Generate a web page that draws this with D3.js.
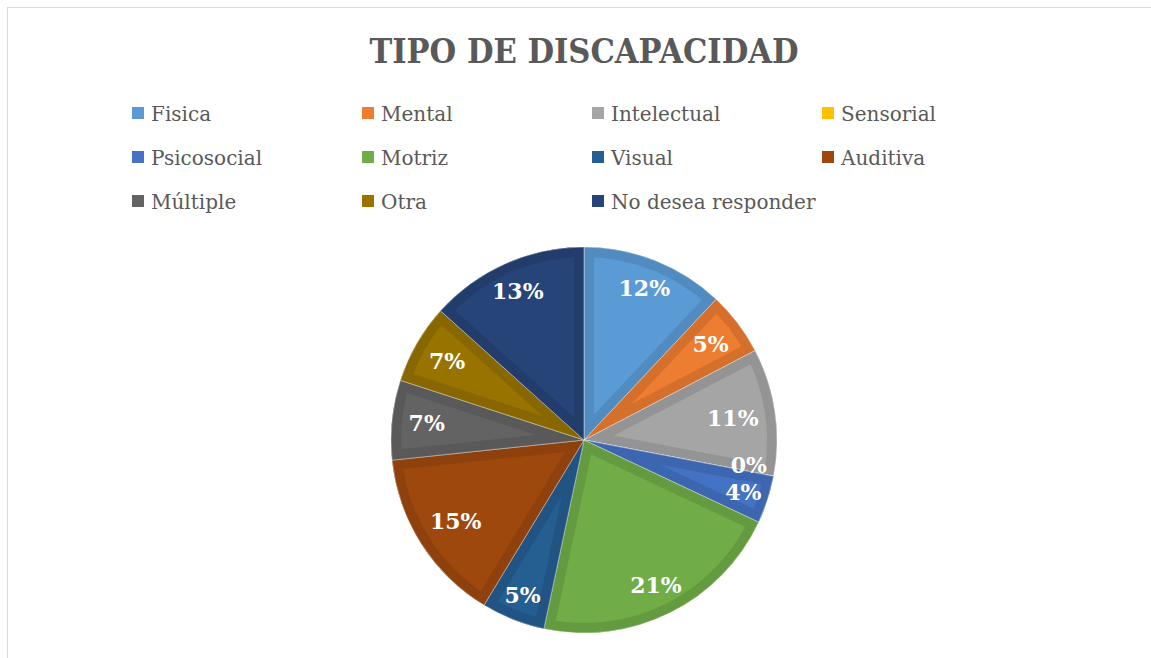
<!DOCTYPE html>
<html>
<head>
<meta charset="utf-8">
<script src="https://cdn.jsdelivr.net/npm/d3@7"></script>
<style>
  body { margin: 0; background: #fff; }
  svg { display: block; }
</style>
</head>
<body>
<svg id="chart" width="1151" height="658"></svg>
<script>
const categories = ["Fisica", "Mental", "Intelectual", "Sensorial", "Psicosocial", "Motriz",
                    "Visual", "Auditiva", "Múltiple", "Otra", "No desea responder"];
const counts = [9, 4, 8, 0, 3, 16, 4, 11, 5, 5, 10];
const colors = ["#5B9BD5", "#ED7D31", "#A5A5A5", "#FFC000", "#4472C4", "#70AD47",
                "#255E91", "#9E480E", "#636363", "#997300", "#264478"];
const title = "TIPO DE DISCAPACIDAD";

const width = 1151, height = 658;
const cx = 584, cy = 440, radius = 193;
const textGrey = "#595959";
const font = "'DejaVu Serif', serif";

let svg = d3.select("#chart");

// chart frame
svg.append("rect")
  .attr("x", 7.5).attr("y", 7.5)
  .attr("width", 1160).attr("height", 670)
  .attr("fill", "none")
  .attr("stroke", "#d9d9d9")
  .attr("stroke-width", 1);

// title
svg.append("text")
  .attr("x", cx)
  .attr("y", 63)
  .attr("text-anchor", "middle")
  .attr("font-family", font)
  .attr("font-weight", "bold")
  .attr("font-size", 34)
  .attr("fill", textGrey)
  .attr("textLength", 429)
  .attr("lengthAdjust", "spacingAndGlyphs")
  .text(title);

// legend, 4 columns
let legend = svg.append("g").attr("class", "legend");
let items = legend.selectAll("g.item")
  .data(categories)
  .enter()
  .append("g")
  .attr("class", "item")
  .attr("transform", (d, i) => `translate(${132 + (i % 4) * 230}, ${113 + Math.floor(i / 4) * 44})`);

items.append("rect")
  .attr("x", 0).attr("y", -6)
  .attr("width", 12).attr("height", 12)
  .attr("fill", (d, i) => colors[i]);

items.append("text")
  .attr("x", 19)
  .attr("y", 7.5)
  .attr("font-family", font)
  .attr("font-size", 20)
  .attr("fill", textGrey)
  .text(d => d);

// pie
let total = d3.sum(counts);
let pie = d3.pie().sort(null).value(d => d);
let arcs = pie(counts);
let arc = d3.arc().innerRadius(0).outerRadius(radius);

let g = svg.append("g").attr("transform", `translate(${cx},${cy})`);
let defs = svg.append("defs");

defs.selectAll("clipPath")
  .data(arcs)
  .enter()
  .append("clipPath")
  .attr("id", (d, i) => "clip" + i)
  .append("path")
  .attr("d", arc);

let slices = g.selectAll("g.slice")
  .data(arcs)
  .enter()
  .append("g")
  .attr("class", "slice");

slices.append("path")
  .attr("d", arc)
  .attr("fill", (d, i) => colors[i]);

// darker inner band along the slice edges
slices.append("path")
  .attr("d", arc)
  .attr("clip-path", (d, i) => `url(#clip${i})`)
  .attr("fill", "none")
  .attr("stroke", (d, i) => d3.rgb(colors[i]).darker(0.3))
  .attr("stroke-width", 20)
  .attr("stroke-linejoin", "miter");

// thin light separators
slices.append("path")
  .attr("d", arc)
  .attr("fill", "none")
  .attr("stroke", "#ffffff")
  .attr("stroke-opacity", 0.5)
  .attr("stroke-width", 0.8);

// labels, inside end
let labels = g.selectAll("text.label")
  .data(arcs)
  .enter()
  .append("text")
  .attr("class", "label")
  .attr("text-anchor", "middle")
  .attr("font-family", font)
  .attr("font-weight", "bold")
  .attr("font-size", 22)
  .attr("fill", "#ffffff")
  .text(d => Math.round(d.value / total * 100) + "%");

labels.each(function(d) {
  let w = this.getComputedTextLength();
  let a = (d.startAngle + d.endAngle) / 2;
  let s = Math.sin(a), c = -Math.cos(a);
  let half = (w / 2 + 6) * Math.abs(s) + 8 * Math.abs(c);
  let r = radius - 10 - half;
  // tiny slices sit out at the rim, as in the source
  if (d.endAngle - d.startAngle < 0.3) r += 10;
  // empty slice label nudged up so it clears its neighbour
  let dy = d.value === 0 ? -6 : 0;
  d3.select(this)
    .attr("x", r * s)
    .attr("y", r * c + 8 + dy);
});
</script>
</body>
</html>
